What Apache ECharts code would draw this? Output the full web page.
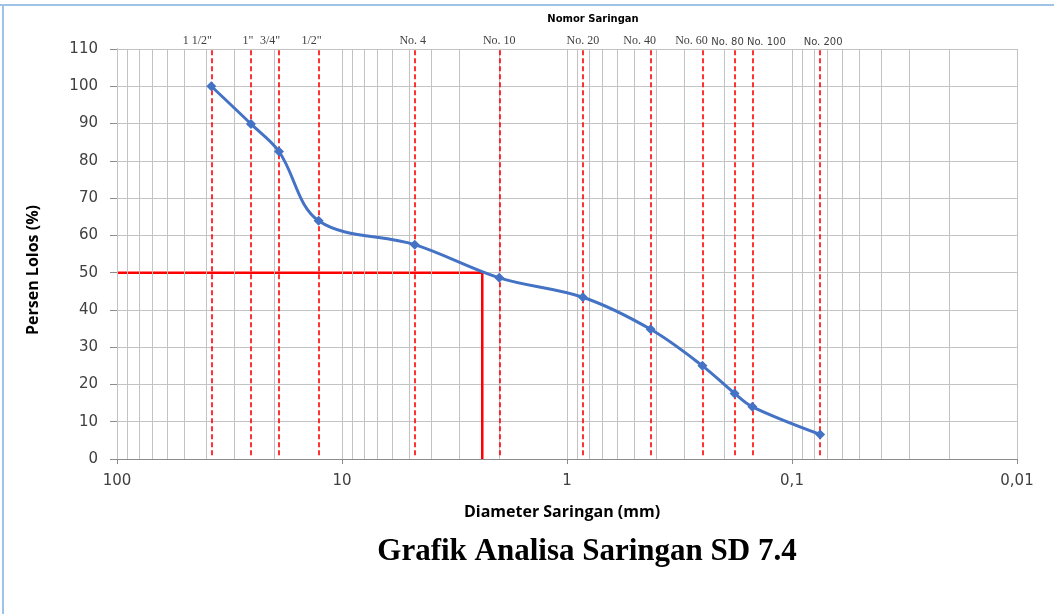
<!DOCTYPE html>
<html>
<head>
<meta charset="utf-8">
<script src="https://cdn.jsdelivr.net/npm/echarts@6/dist/echarts.min.js"></script>
<style>
html,body{margin:0;padding:0;background:#fff;}
#chart{width:1054px;height:614px;}
</style>
</head>
<body>
<div id="chart"></div>
<script>
// ---- data ----
const sieveLabels = ['1 1/2"', '1"', '3/4"', '1/2"', 'No. 4', 'No. 10', 'No. 20', 'No. 40', 'No. 60', 'No. 80', 'No. 100', 'No. 200'];
const sieveSizes = [38.1, 25.4, 19.05, 12.7, 4.75, 2.0, 0.85, 0.425, 0.25, 0.18, 0.15, 0.075];
const percentPassing = [100, 89.9, 82.5, 63.9, 57.5, 48.6, 43.4, 34.8, 25.0, 17.6, 14.0, 6.6];
const d50Size = 2.38;
const d50Percent = 50;
const xMin = 0.01, xMax = 100;
const yMin = 0, yMax = 110, yStep = 10;

// ---- styling helpers ----
const labelDx = [-14, -3, -9, -7, -2, 0, 0, -11, -11, -7, 14, 3];
const sansLabels = { 'No. 80': true, 'No. 100': true, 'No. 200': true };

// log minor grid values (1..9 x decade)
const gridVals = [];
for (let e = Math.log10(xMin); e < Math.log10(xMax); e++) {
  for (let d = 1; d <= 9; d++) gridVals.push(+(d * Math.pow(10, e)).toPrecision(6));
}
gridVals.push(xMax);

const chart = echarts.init(document.getElementById('chart'), null, { renderer: 'canvas' });

const fmt = v => String(+(+v).toPrecision(6)).replace('.', ',');

const option = {
  animation: false,
  backgroundColor: '#ffffff',
  grid: { left: 117, right: 37, top: 49, bottom: 155, containLabel: false },
  xAxis: {
    type: 'log', logBase: 10, inverse: true, min: xMin, max: xMax,
    axisLine: { show: true, lineStyle: { color: '#8c8c8c', width: 1 } },
    axisTick: { show: true, length: 5, lineStyle: { color: '#8c8c8c' } },
    splitLine: { show: false },
    minorTick: { show: false },
    axisLabel: { formatter: fmt, fontFamily: 'DejaVu Sans', fontSize: 15, color: '#404040', margin: 15 }
  },
  yAxis: {
    type: 'value', min: yMin, max: yMax, interval: yStep,
    axisLine: { show: true, lineStyle: { color: '#8c8c8c', width: 1 } },
    axisTick: { show: true, length: 7, lineStyle: { color: '#8c8c8c' } },
    splitLine: { show: true, lineStyle: { color: '#c3c3c3', width: 1 } },
    axisLabel: { fontFamily: 'DejaVu Sans', fontSize: 15, color: '#404040', margin: 19 }
  },
  graphic: [
    { type: 'line', shape: { x1: 0, y1: 5, x2: 1054, y2: 5 }, style: { stroke: '#9dc3e6', lineWidth: 2 } },
    { type: 'line', shape: { x1: 3, y1: 5, x2: 3, y2: 614 }, style: { stroke: '#9dc3e6', lineWidth: 2 } },
    { type: 'text', x: 593, y: 19, style: { text: 'Nomor Saringan', font: 'bold 10px "DejaVu Sans"', fill: '#000', textAlign: 'center', textVerticalAlign: 'middle' } },
    { type: 'text', x: 562, y: 512, style: { text: 'Diameter Saringan (mm)', font: 'bold 16px "Open Sans"', fill: '#000', textAlign: 'center', textVerticalAlign: 'middle' } },
    { type: 'text', x: 33, y: 270, rotation: Math.PI / 2, style: { text: 'Persen Lolos (%)', font: 'bold 16px "Open Sans"', fill: '#000', textAlign: 'center', textVerticalAlign: 'middle' } },
    { type: 'text', x: 587, y: 552, style: { text: 'Grafik Analisa Saringan SD 7.4', font: 'bold 31px "Liberation Serif"', fill: '#000', textAlign: 'center', textVerticalAlign: 'middle' } }
  ],
  series: [
    {
      name: 'grid', type: 'line', data: [], z: 1, silent: true,
      markLine: {
        silent: true, symbol: 'none', animation: false,
        label: { show: false },
        lineStyle: { color: '#c3c3c3', width: 1, type: 'solid' },
        data: gridVals.map(v => [{ coord: [v, yMin] }, { coord: [v, yMax] }])
      }
    },
    {
      name: 'sieves', type: 'line', data: [], z: 3, silent: true,
      markLine: {
        silent: true, symbol: 'none', animation: false,
        lineStyle: { color: '#ff0000', width: 1.6, type: [5, 3] },
        data: sieveSizes.map((s, i) => [
          { coord: [s, 1] },
          {
            coord: [s, yMax],
            label: {
              show: true, position: 'end', distance: 2,
              formatter: sieveLabels[i],
              offset: [labelDx[i], 0],
              fontFamily: sansLabels[sieveLabels[i]] ? 'DejaVu Sans' : 'Liberation Serif',
              fontSize: sansLabels[sieveLabels[i]] ? 10 : 12,
              color: '#404040'
            }
          }
        ])
      }
    },
    {
      name: 'D50', type: 'line', z: 4, silent: true,
      data: [[xMax, d50Percent], [d50Size, d50Percent], [d50Size, 0]],
      symbol: 'none',
      lineStyle: { color: '#ff0000', width: 2.5 }
    },
    {
      name: 'Persen Lolos', type: 'line', z: 5,
      data: sieveSizes.map((s, i) => [s, percentPassing[i]]),
      smooth: 0.35,
      symbol: 'diamond', symbolSize: 10,
      itemStyle: { color: '#4472c4' },
      lineStyle: { color: '#4472c4', width: 3 }
    }
  ]
};
chart.setOption(option);
</script>
</body>
</html>
